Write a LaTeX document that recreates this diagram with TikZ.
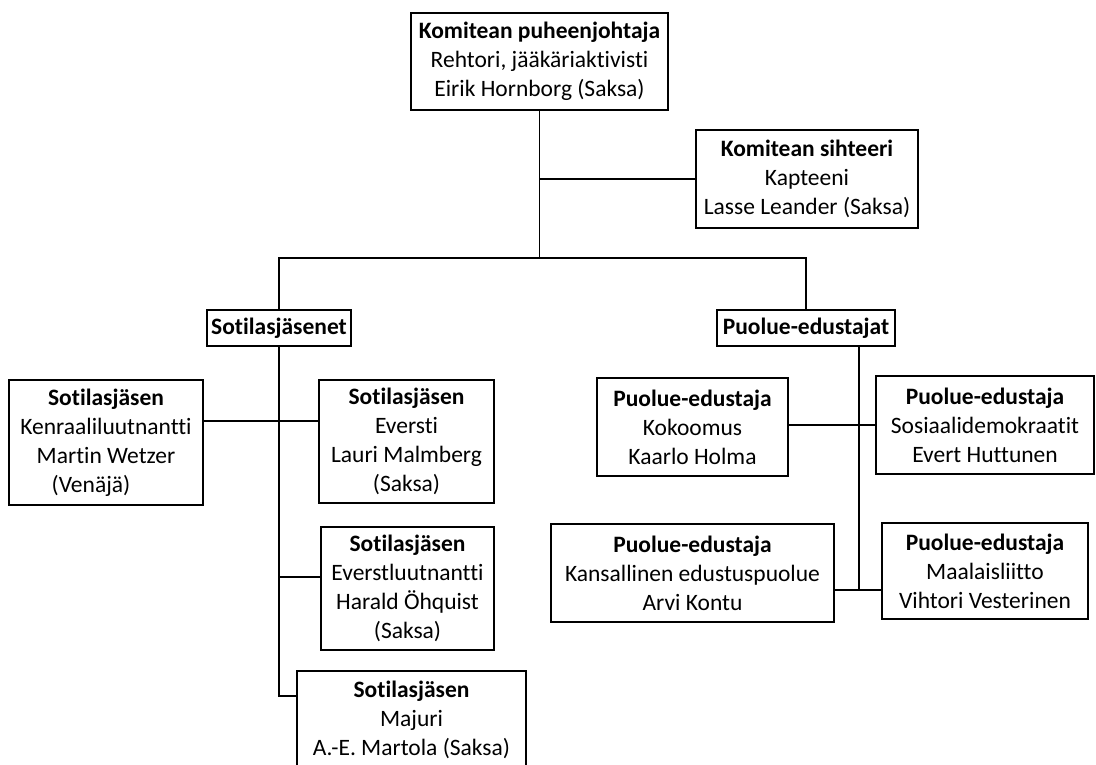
\documentclass[tikz,border=0pt]{standalone}
\usepackage{fontspec}
\setmainfont{Carlito}[Ligatures={NoCommon}]
\begin{document}
\begin{tikzpicture}[x=1pt,y=-1pt,
  box/.style={draw=black, line width=1.3pt, fill=white, align=center, inner sep=0pt,
    font=\fontsize{23.5}{29}\selectfont, text=black},
  conn/.style={draw=black, line width=1.3pt}]
\useasboundingbox (0,0) rectangle (1096,764);
% boxes
\node[box, minimum width=257, minimum height=97] (top) at (539.5,61.5)
  {\textbf{Komitean puheenjohtaja}\\Rehtori, jääkäriaktivisti\\Eirik Hornborg (Saksa)};
\node[box, minimum width=222, minimum height=98] (sec) at (807,179)
  {\textbf{Komitean sihteeri}\\Kapteeni\\Lasse Leander (Saksa)};
\node[box, minimum width=144, minimum height=36] (sotj) at (279,328)
  {\textbf{Sotilasjäsenet}};
\node[box, minimum width=178, minimum height=36] (puo) at (806,328)
  {\textbf{Puolue-edustajat}};
\node[box, minimum width=194, minimum height=125] (s1) at (106,442.5)
  {\textbf{Sotilasjäsen}\\Kenraaliluutnantti\\Martin Wetzer\\(Venäjä)\hspace*{30pt}};
\node[box, minimum width=175, minimum height=123] (s2) at (406.5,441.5)
  {\textbf{Sotilasjäsen}\\Eversti\hspace*{72pt}\\Lauri Malmberg\\(Saksa)};
\node[box, minimum width=173, minimum height=123] (s3) at (407.5,588.5)
  {\textbf{Sotilasjäsen}\\Everstluutnantti\\Harald Öhquist\\(Saksa)};
\node[box, minimum width=229, minimum height=123] (s4) at (411.5,732.5)
  {\textbf{Sotilasjäsen}\\Majuri\\A.-E. Martola (Saksa)\\\mbox{}};
\node[box, minimum width=191, minimum height=98] (p1) at (692.5,427)
  {\textbf{Puolue-edustaja}\\Kokoomus\\Kaarlo Holma};
\node[box, minimum width=218, minimum height=98] (p2) at (985,425)
  {\textbf{Puolue-edustaja}\\Sosiaalidemokraatit\\Evert Huttunen};
\node[box, minimum width=283, minimum height=98] (p3) at (692.5,573)
  {\textbf{Puolue-edustaja}\\Kansallinen edustuspuolue\\Arvi Kontu};
\node[box, minimum width=206, minimum height=96] (p4) at (985,571)
  {\textbf{Puolue-edustaja}\\Maalaisliitto\\Vihtori Vesterinen};
% junction coordinates
\coordinate (bar) at (539.5,258);
\coordinate (ys1) at (279,421);
\coordinate (ys3) at (279,577);
\coordinate (lsp) at (279,696);
\coordinate (yp1) at (859,425);
\coordinate (rsp) at (859,590);
% connectors
\draw[conn] (top.south) -- (bar);
\draw[conn] (sec.west) -- (sec.west -| top.south);
\draw[conn] (sotj.north) |- (bar) -| (puo.north);
\draw[conn] (sotj.south) -- (lsp) -- (s4.west |- lsp);
\draw[conn] (s1.east |- ys1) -- (s2.west |- ys1);
\draw[conn] (ys3) -- (s3.west |- ys3);
\draw[conn] (puo.south -| rsp) -- (rsp);
\draw[conn] (p1.east |- yp1) -- (p2.west |- yp1);
\draw[conn] (p3.east |- rsp) -- (p4.west |- rsp);
\end{tikzpicture}
\end{document}
